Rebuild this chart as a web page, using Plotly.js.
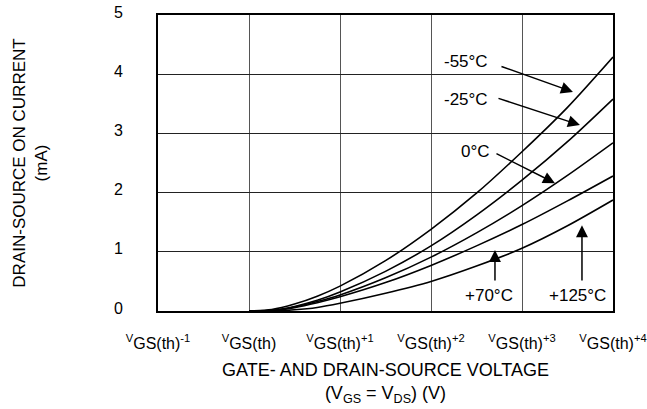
<!DOCTYPE html>
<html>
<head>
<meta charset="utf-8">
<script src="https://cdn.plot.ly/plotly-3.0.1.min.js"></script>
<style>html,body{margin:0;padding:0;background:#fff;}#chart{width:647px;height:409px;}</style>
</head>
<body>
<div id="chart"></div>
<script>
// Gate-source voltage offsets relative to VGS(th) (V)
const vgsOffset = [0, 0.25, 0.5, 0.75, 1, 1.5, 2, 2.5, 3, 3.5, 4];
// Drain-source ON current (mA) per temperature
const idM55 = [0, 0.025, 0.117, 0.25, 0.42, 0.85, 1.38, 1.99, 2.69, 3.44, 4.29];
const idM25 = [0, 0.01, 0.077, 0.18, 0.32, 0.67, 1.10, 1.62, 2.21, 2.86, 3.58];
const id0 = [0, 0.01, 0.069, 0.16, 0.27, 0.56, 0.91, 1.32, 1.78, 2.29, 2.84];
const id70 = [0, 0.004, 0.057, 0.14, 0.24, 0.48, 0.77, 1.10, 1.46, 1.86, 2.28];
const id125 = [0, 0, 0.02, 0.06, 0.13, 0.30, 0.50, 0.76, 1.06, 1.44, 1.875];
const tempLabels = ['-55°C', '-25°C', '0°C', '+70°C', '+125°C'];
const xTickVals = [-1, 0, 1, 2, 3, 4];
const xTickText = [
  '<sup>V</sup>GS(th)<sup>-1</sup>',
  '<sup>V</sup>GS(th)',
  '<sup>V</sup>GS(th)<sup>+1</sup>',
  '<sup>V</sup>GS(th)<sup>+2</sup>',
  '<sup>V</sup>GS(th)<sup>+3</sup>',
  '<sup>V</sup>GS(th)<sup>+4</sup>'
];
const yTickVals = [0, 1, 2, 3, 4, 5];

const FONT = 'Arial, "Liberation Sans", sans-serif';
const series = [idM55, idM25, id0, id70, id125];
const traces = series.map((ys, i) => ({
  x: vgsOffset, y: ys, type: 'scatter', mode: 'lines', name: tempLabels[i],
  line: {color: '#000', width: 1.6, shape: 'spline', smoothing: 0.8},
  hoverinfo: 'skip'
}));

// label placement (styling): [textX, textY, tailX, tailY, tipX, tipY]
const labelPos = [
  [2.385, 4.22, 2.758, 4.14, 3.56, 3.70],
  [2.385, 3.58, 2.725, 3.60, 3.637, 3.14],
  [2.484, 2.70, 2.703, 2.67, 3.363, 2.16],
  [2.637, 0.27, 2.703, 0.49, 2.703, 1.03],
  [3.615, 0.27, 3.659, 0.49, 3.659, 1.45]
];
const annotations = [];
labelPos.forEach((p, i) => {
  annotations.push({x: p[0], y: p[1], xref: 'x', yref: 'y', text: tempLabels[i], showarrow: false,
    font: {family: FONT, size: 17, color: '#000'}});
  annotations.push({x: p[4], y: p[5], ax: p[2], ay: p[3], xref: 'x', yref: 'y', axref: 'x', ayref: 'y',
    text: '', showarrow: true, arrowhead: 2, arrowsize: 1.6, arrowwidth: 1.5, arrowcolor: '#000', standoff: 0, startstandoff: 0});
});

const layout = {
  width: 647, height: 409,
  margin: {l: 158, r: 34, t: 15, b: 98},
  paper_bgcolor: '#fff', plot_bgcolor: '#fff',
  showlegend: false,
  font: {family: FONT, color: '#000'},
  xaxis: {
    range: [-1, 4], tickvals: xTickVals, ticktext: xTickText,
    ticks: '', ticklabelstandoff: 17,
    tickfont: {family: FONT, size: 16, color: '#000'},
    showgrid: true, gridcolor: '#555', gridwidth: 1,
    zeroline: false, showline: true, linecolor: '#000', linewidth: 2, mirror: true,
    title: {text: 'GATE- AND DRAIN-SOURCE VOLTAGE<br>(V<sub>GS</sub> = V<sub>DS</sub>) (V)',
      font: {family: FONT, size: 18, color: '#000'}, standoff: 12},
    fixedrange: true
  },
  yaxis: {
    range: [0, 5], tickvals: yTickVals,
    ticks: '', ticklabelstandoff: 30, ticklabelshift: -3,
    tickfont: {family: FONT, size: 16, color: '#000'},
    showgrid: true, gridcolor: '#222', gridwidth: 1,
    zeroline: false, showline: true, linecolor: '#000', linewidth: 2, mirror: true,
    title: {text: 'DRAIN-SOURCE ON CURRENT<br>(mA)', font: {family: FONT, size: 17, color: '#000'}, standoff: 62},
    fixedrange: true
  },
  annotations: annotations
};
Plotly.newPlot('chart', traces, layout, {staticPlot: true, displayModeBar: false});
</script>
</body>
</html>
